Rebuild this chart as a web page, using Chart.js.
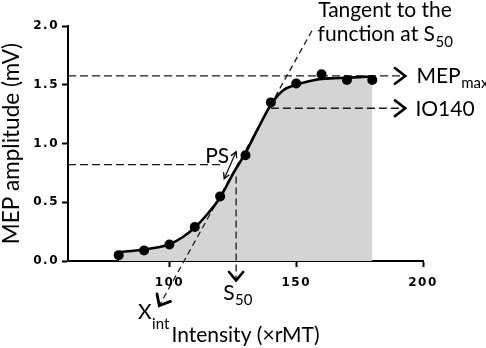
<!DOCTYPE html>
<html>
<head>
<meta charset="utf-8">
<script src="https://cdn.jsdelivr.net/npm/chart.js@4.4.1/dist/chart.umd.min.js"></script>
<style>
  html, body { margin: 0; padding: 0; background: #fff; }
</style>
</head>
<body>
<canvas id="ioChart" width="486" height="348"></canvas>
<script>
const intensities = [80, 90, 100, 110, 120, 130, 140, 150, 160, 170, 180];
const mepAmplitudes = [0.05, 0.09, 0.14, 0.29, 0.55, 0.90, 1.35, 1.51, 1.59, 1.54, 1.54];

// fitted sigmoid, read every 5 xrMT
const fitIntensities = [80, 85, 90, 95, 100, 105, 110, 115, 120, 125, 130, 135, 140, 145, 150, 155, 160, 165, 170, 175, 180];
const fitAmplitudes = [0.075, 0.085, 0.098, 0.115, 0.143, 0.20, 0.285, 0.40, 0.54, 0.74, 0.92, 1.13, 1.33, 1.455, 1.50, 1.53, 1.55, 1.555, 1.56, 1.565, 1.57];

const xTicks = [100, 150, 200];
const yTicks = [0, 0.5, 1.0, 1.5, 2.0];

// annotation lines, in data units (x = xrMT, y = mV)
const mepMaxLine = [[60, 1.575], [193, 1.575]];
const io140Line = [[140, 1.30], [193, 1.30]];
const psLevelLine = [[60, 0.82], [121.5, 0.82]];
const s50Line = [[126.3, 0.72], [126.3, -0.165]];
const tangentLine = [[156.2, 1.96], [96.0, -0.38]];
const psArrow = [[121.6, 0.70], [126.3, 0.93]];

const toXY = arr => arr.map(p => ({ x: p[0], y: p[1] }));

function dashed(data, dash) {
  return {
    data: toXY(data),
    borderColor: '#1a1a1a',
    borderWidth: 1.3,
    borderDash: dash,
    pointRadius: 0,
    fill: false,
    tension: 0,
    clip: false
  };
}

// text labels: anchor in data units
const labels = [
  { text: 'Tangent to the', x: 185, y: 2.078, align: 'center' },
  { text: 'function at S', sub: '50', x: 185, y: 1.872, align: 'center', subDy: 6 },
  { text: 'MEP', sub: 'max', x: 197.4, y: 1.517, subDy: 5 },
  { text: 'IO140', x: 197.0, y: 1.236 },
  { text: 'PS', x: 114.1, y: 0.836 },
  { text: 'X', sub: 'int', x: 87.6, y: -0.49, subDy: 10 },
  { text: 'S', sub: '50', x: 121.2, y: -0.336, subDy: 5 }
];

function chevron(ctx, from, tip, len, spread, width) {
  const a = Math.atan2(tip.y - from.y, tip.x - from.x);
  ctx.save();
  ctx.strokeStyle = '#000';
  ctx.lineWidth = width;
  ctx.lineCap = 'round';
  ctx.lineJoin = 'miter';
  ctx.beginPath();
  ctx.moveTo(tip.x - len * Math.cos(a - spread), tip.y - len * Math.sin(a - spread));
  ctx.lineTo(tip.x, tip.y);
  ctx.lineTo(tip.x - len * Math.cos(a + spread), tip.y - len * Math.sin(a + spread));
  ctx.stroke();
  ctx.restore();
}

const annotationPlugin = {
  id: 'annotations',
  afterDatasetsDraw(chart) {
    // spaced-out bold tick labels are drawn after this (ticks z: 1)
    chart.ctx.letterSpacing = '1.5px';
  },
  afterDraw(chart) {
    const ctx = chart.ctx;
    ctx.letterSpacing = '0px';
    const xs = chart.scales.x, ys = chart.scales.y;
    const px = p => ({ x: xs.getPixelForValue(p[0]), y: ys.getPixelForValue(p[1]) });
    const end = (line, i, j) => [px(line[i]), px(line[j])];

    let [a, b] = end(mepMaxLine, 0, 1); chevron(ctx, a, b, 13, 0.65, 2.6);
    [a, b] = end(io140Line, 0, 1); chevron(ctx, a, b, 13, 0.65, 2.6);
    [a, b] = end(s50Line, 0, 1); chevron(ctx, a, b, 11, 0.7, 2.6);
    [a, b] = end(tangentLine, 0, 1); chevron(ctx, a, b, 12, 0.7, 2.8);
    [a, b] = end(psArrow, 0, 1); chevron(ctx, a, b, 6, 0.5, 1.3);
    chevron(ctx, b, a, 6, 0.5, 1.3);

    ctx.save();
    ctx.fillStyle = '#000';
    ctx.textBaseline = 'alphabetic';
    labels.forEach(l => {
      const p = px([l.x, l.y]);
      ctx.font = '21px Lato';
      const w1 = ctx.measureText(l.text).width;
      let w2 = 0;
      if (l.sub) {
        ctx.font = '15px Lato';
        w2 = ctx.measureText(l.sub).width;
      }
      const x0 = l.align === 'center' ? p.x - (w1 + w2) / 2 : p.x;
      ctx.textAlign = 'left';
      ctx.font = '21px Lato';
      ctx.fillText(l.text, x0, p.y);
      if (l.sub) {
        ctx.font = '15px Lato';
        ctx.fillText(l.sub, x0 + w1 + 0.5, p.y + l.subDy);
      }
    });
    ctx.restore();
  }
};

const tickFont = { family: 'DejaVu Sans', size: 12, weight: 'bold' };

new Chart(document.getElementById('ioChart'), {
  type: 'line',
  data: {
    datasets: [
      {
        data: intensities.map((x, i) => ({ x, y: mepAmplitudes[i] })),
        showLine: false,
        pointRadius: 5,
        pointBackgroundColor: '#000',
        pointBorderColor: '#000',
        pointBorderWidth: 0
      },
      {
        data: fitIntensities.map((x, i) => ({ x, y: fitAmplitudes[i] })),
        borderColor: '#000',
        borderWidth: 2.6,
        backgroundColor: '#d4d4d4',
        fill: 'origin',
        pointRadius: 0,
        cubicInterpolationMode: 'monotone'
      },
      dashed(mepMaxLine, [8, 4]),
      dashed(io140Line, [8, 4]),
      dashed(psLevelLine, [8, 4]),
      dashed(s50Line, [7, 4]),
      dashed(tangentLine, [6, 4]),
      Object.assign(dashed(psArrow, []), { borderWidth: 1.3 })
    ]
  },
  options: {
    responsive: false,
    animation: false,
    layout: { padding: { left: 0, top: 26, right: 63, bottom: 0 } },
    plugins: {
      legend: { display: false },
      tooltip: { enabled: false },
      filler: { drawTime: 'beforeDatasetsDraw' }
    },
    scales: {
      x: {
        type: 'linear',
        min: 60,
        max: 200,
        afterBuildTicks: s => { s.ticks = xTicks.map(v => ({ value: v })); },
        afterFit: s => { s.height = 87; },
        grid: { drawOnChartArea: false, drawTicks: true, tickLength: 6, tickWidth: 2, tickColor: '#000' },
        border: { display: true, color: '#000', width: 2 },
        ticks: { z: 1, font: tickFont, color: '#000', padding: 9, maxRotation: 0, callback: v => String(v) },
        title: { display: true, text: 'Intensity (×rMT)', color: '#000', font: { family: 'Lato', size: 21 }, padding: { top: 0, bottom: 0 } }
      },
      y: {
        min: 0,
        max: 2,
        afterBuildTicks: s => { s.ticks = yTicks.map(v => ({ value: v })); },
        afterFit: s => { s.width = 68; },
        grid: { drawOnChartArea: false, drawTicks: true, tickLength: 6, tickWidth: 2, tickColor: '#000' },
        border: { display: true, color: '#000', width: 2 },
        ticks: { z: 1, font: tickFont, color: '#000', padding: 3, callback: v => Number(v).toFixed(1) },
        title: { display: true, text: 'MEP amplitude (mV)', color: '#000', font: { family: 'Lato', size: 22.5, lineHeight: 1.0 }, padding: { top: 0, bottom: 0 } }
      }
    }
  },
  plugins: [annotationPlugin]
});
</script>
</body>
</html>
